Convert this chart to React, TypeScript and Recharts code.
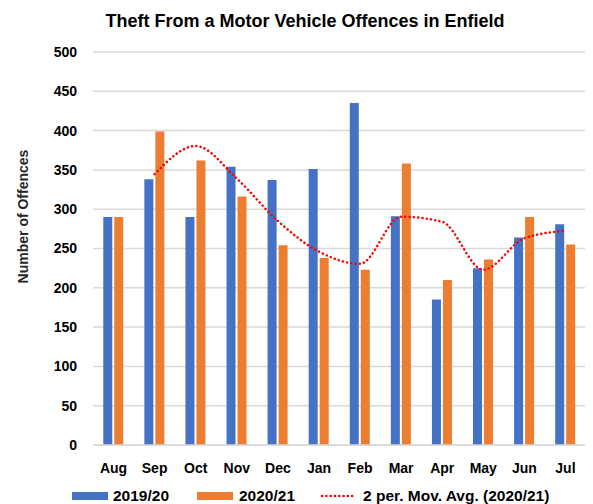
import React from 'react';
import { ComposedChart, Bar, Line, XAxis, YAxis, CartesianGrid } from 'recharts';

const months = ['Aug', 'Sep', 'Oct', 'Nov', 'Dec', 'Jan', 'Feb', 'Mar', 'Apr', 'May', 'Jun', 'Jul'];
const offences2019 = [290, 338, 290, 354, 337, 351, 435, 291, 185, 225, 264, 281];
const offences2020 = [290, 399, 362, 316, 254, 238, 223, 358, 210, 236, 290, 255];
const movingAvg: (number | null)[] = [null, 344.5, 380.5, 339, 285, 246, 230.5, 290.5, 284, 223, 263, 272.5];
const yTicks = [0, 50, 100, 150, 200, 250, 300, 350, 400, 450, 500];

const data = months.map((m, i) => ({
  month: m,
  y2019: offences2019[i],
  y2020: offences2020[i],
  ma: movingAvg[i],
}));

const FONT = '"Liberation Sans", Arial, sans-serif';

const YLabel = (props: any) => {
  const vb = props.viewBox || { x: 0, y: 52, width: 93, height: 393 };
  const cx = vb.x + 23;
  const cy = vb.y + vb.height / 2 - 32;
  return (
    <text
      x={cx}
      y={cy}
      transform={`rotate(-90 ${cx} ${cy})`}
      textAnchor="middle"
      dominantBaseline="central"
      fontFamily={FONT}
      fontWeight="bold"
      fontSize={14}
      fill="#262626"
    >
      Number of Offences
    </text>
  );
};

export default function App() {
  return (
    <div style={{ position: 'relative', margin: '-8px -8px 0 -8px', width: 593, height: 504, background: '#fff', fontFamily: FONT }}>
      <div
        style={{
          position: 'absolute',
          left: 0,
          width: 610,
          top: 10,
          textAlign: 'center',
          fontWeight: 'bold',
          fontSize: 18,
          lineHeight: '22px',
          color: '#000',
          whiteSpace: 'nowrap',
        }}
      >
        Theft From a Motor Vehicle Offences in Enfield
      </div>
      <ComposedChart
        width={593}
        height={504}
        data={data}
        margin={{ top: 52, right: 7, left: 0, bottom: 24 }}
        barCategoryGap="25%"
        barGap={2}
      >
        <CartesianGrid vertical={false} stroke="#d9d9d9" strokeWidth={1.5} />
        <XAxis
          dataKey="month"
          height={35}
          axisLine={{ stroke: '#d9d9d9', strokeWidth: 1.5 }}
          tickLine={false}
          tickSize={6}
          tickMargin={12}
          tick={{ fontFamily: FONT, fontWeight: 'bold', fontSize: 14, fill: '#000' }}
          interval={0}
        />
        <YAxis
          width={93}
          domain={[0, 500]}
          ticks={yTicks}
          axisLine={false}
          tickLine={false}
          tickSize={6}
          tickMargin={10}
          tick={{ fontFamily: FONT, fontWeight: 'bold', fontSize: 14, fill: '#000' }}
          label={{ content: YLabel }}
        />
        <Bar dataKey="y2019" fill="#4472C4" isAnimationActive={false} />
        <Bar dataKey="y2020" fill="#ED7D31" isAnimationActive={false} />
        <Line
          dataKey="ma"
          type="monotone"
          stroke="#FF0000"
          strokeWidth={2.5}
          strokeDasharray="0.1 4.2"
          strokeLinecap="round"
          dot={false}
          activeDot={false}
          isAnimationActive={false}
        />
      </ComposedChart>
      <div style={{ position: 'absolute', top: 488, left: 0, width: 593, height: 16, fontSize: 15.5, fontWeight: 'bold', color: '#000' }}>
        <div style={{ position: 'absolute', left: 72, top: 4, width: 36, height: 8, background: '#4472C4' }} />
        <div style={{ position: 'absolute', left: 113, top: 0, lineHeight: '16px' }}>2019/20</div>
        <div style={{ position: 'absolute', left: 197, top: 4, width: 36, height: 8, background: '#ED7D31' }} />
        <div style={{ position: 'absolute', left: 239, top: 0, lineHeight: '16px' }}>2020/21</div>
        <svg style={{ position: 'absolute', left: 320, top: 0 }} width={40} height={16}>
          <line x1={2} y1={8} x2={35} y2={8} stroke="#FF0000" strokeWidth={2.5} strokeDasharray="0.1 4.2" strokeLinecap="round" />
        </svg>
        <div style={{ position: 'absolute', left: 363, top: 0, lineHeight: '16px', whiteSpace: 'nowrap' }}>2 per. Mov. Avg. (2020/21)</div>
      </div>
    </div>
  );
}
